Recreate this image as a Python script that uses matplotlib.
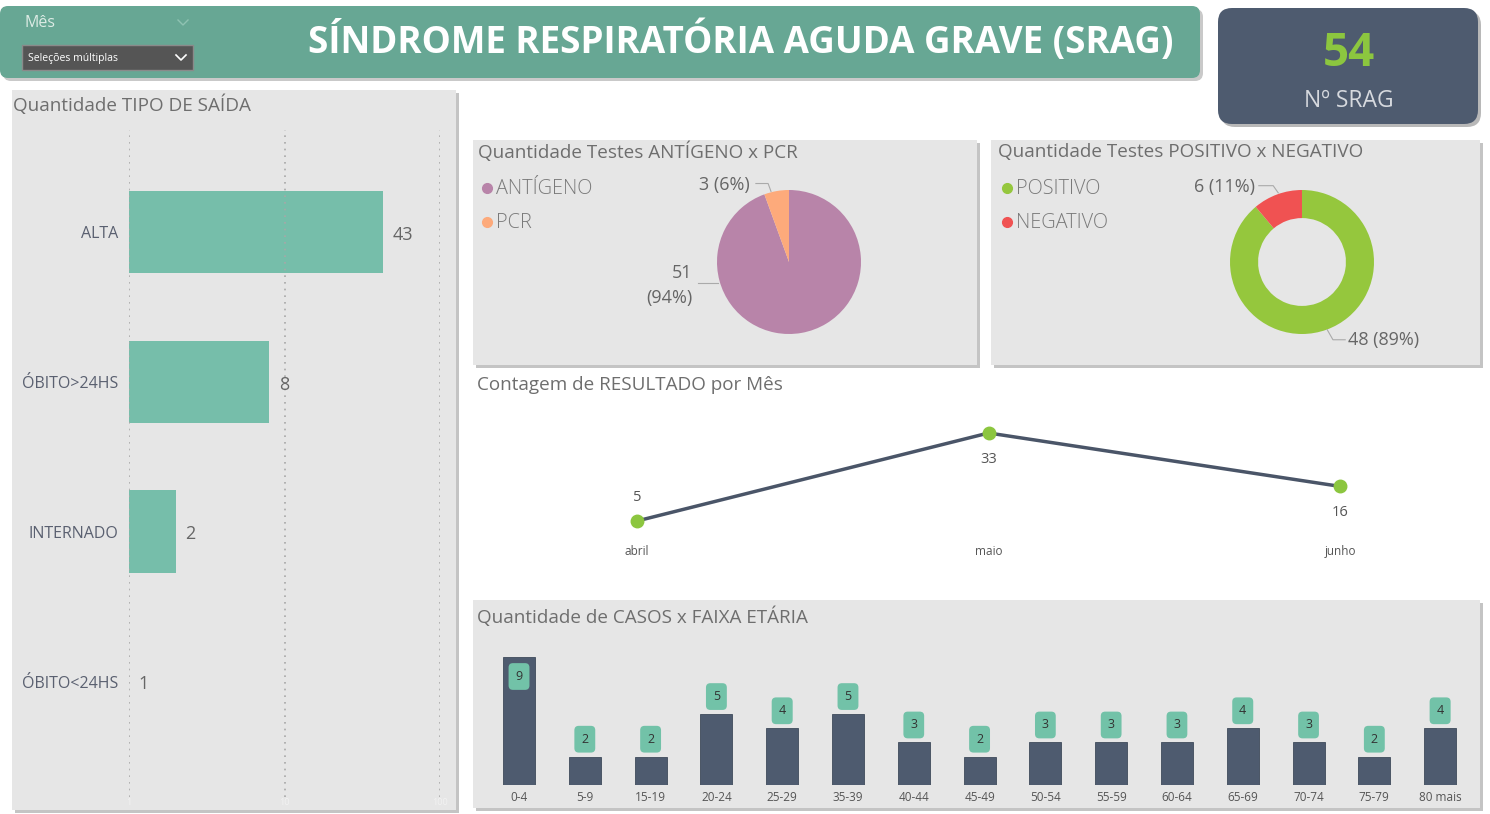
import numpy as np
import matplotlib
matplotlib.use('Agg')
import matplotlib.pyplot as plt
from matplotlib.patches import FancyBboxPatch, Rectangle

plt.rcParams['font.family'] = ['Open Sans', 'DejaVu Sans']

# data
saida_cats = ['ALTA', 'ÓBITO>24HS', 'INTERNADO', 'ÓBITO<24HS']
saida_vals = [43, 8, 2, 1]

teste_cats = ['ANTÍGENO', 'PCR']
teste_vals = [51, 3]
teste_cols = ['#B884A9', '#FDAA7B']

result_cats = ['POSITIVO', 'NEGATIVO']
result_vals = [48, 6]
result_cols = ['#95C73D', '#F05252']

meses = ['abril', 'maio', 'junho']
mes_vals = [5, 33, 16]

faixas = ['0-4', '5-9', '15-19', '20-24', '25-29', '35-39', '40-44', '45-49',
          '50-54', '55-59', '60-64', '65-69', '70-74', '75-79', '80 mais']
faixa_vals = [9, 2, 2, 5, 4, 5, 3, 2, 3, 3, 3, 4, 3, 2, 4]

total_srag = 54

W, H = 1490, 814
PANEL = '#E6E6E6'
TITLE_C = '#6E6E6E'
SLATE = '#4E5B6F'

fig = plt.figure(figsize=(W / 100, H / 100), dpi=100)
fig.patch.set_facecolor('white')


def px_axes(x, y, w, h, z=2):
    ax = fig.add_axes([x / W, 1 - (y + h) / H, w / W, h / H], zorder=z)
    ax.patch.set_alpha(0)
    return ax


bg = fig.add_axes([0, 0, 1, 1], zorder=0)
bg.set_xlim(0, W)
bg.set_ylim(H, 0)
bg.axis('off')


def panel(x0, y0, x1, y1, color=PANEL, rad=0, shadow='#C4C4C4'):
    for dx, col in ((3, shadow), (0, color)):
        if rad:
            p = FancyBboxPatch((x0 + dx, y0 + dx), x1 - x0, y1 - y0,
                               boxstyle='round,pad=0,rounding_size=%d' % rad,
                               fc=col, ec='none')
        else:
            p = Rectangle((x0 + dx, y0 + dx), x1 - x0, y1 - y0, fc=col, ec='none')
        bg.add_patch(p)


def pct(v, vals):
    return round(100 * v / sum(vals))


# header + slicer
panel(0, 6, 1200, 78, color='#67A794', rad=8, shadow='#C9C9C9')
bg.text(741, 41, 'SÍNDROME RESPIRATÓRIA AGUDA GRAVE (SRAG)', color='white',
        fontsize=26.5, fontweight='bold', ha='center', va='center')
bg.text(25, 23, 'Mês', color='#DDEBE5', fontsize=11.5, va='center')
bg.plot([178, 183, 188], [20, 25, 20], color='#8FC2B2', lw=1)
bg.add_patch(Rectangle((22, 45), 171, 25, fc='#555555', ec='#8A8A8A', lw=1))
bg.text(28, 59, 'Seleções múltiplas', color='white', fontsize=7.5, va='center')
bg.plot([176, 181, 186], [55, 60, 55], color='white', lw=1.2)

# KPI card
panel(1218, 8, 1478, 124, color=SLATE, rad=14, shadow='#B8B8B8')
bg.text(1349, 53, str(total_srag), color='#8CC63F', fontsize=33,
        fontweight='bold', ha='center', va='center')
bg.text(1349, 101, 'Nº SRAG', color='#D6D9DE', fontsize=16.5, ha='center', va='center')

# panels
panel(12, 90, 456, 810)
panel(473, 140, 977, 365)
panel(991, 140, 1480, 365)
panel(473, 600, 1480, 808)

TFS = 13.6
bg.text(13, 105, 'Quantidade TIPO DE SAÍDA', color=TITLE_C, fontsize=TFS, va='center')
bg.text(478, 152, 'Quantidade Testes ANTÍGENO x PCR', color=TITLE_C, fontsize=TFS, va='center')
bg.text(998, 152, 'Quantidade Testes POSITIVO x NEGATIVO', color=TITLE_C, fontsize=TFS, va='center')
bg.text(477, 385, 'Contagem de RESULTADO por Mês', color=TITLE_C, fontsize=TFS, va='center')
bg.text(477, 617, 'Quantidade de CASOS x FAIXA ETÁRIA', color=TITLE_C, fontsize=TFS, va='center')

# legends for pie / donut
for lx, cats, cols in ((481, teste_cats, teste_cols), (1001, result_cats, result_cols)):
    for i, (c, col) in enumerate(zip(cats, cols)):
        yy = 188 + 34 * i
        bg.plot(lx + 6, yy, 'o', ms=7, color=col)
        bg.text(lx + 15, yy + 1, c, color='#7A7A7A', fontsize=14.3, va='center',
                fontweight='light')

# ---- TIPO DE SAIDA (log horizontal bars)
ax = px_axes(129, 130, 311, 667)
pos = np.arange(len(saida_cats))
ax.barh(pos, np.array(saida_vals) - 1, left=1, height=0.55, color='#76BEAA')
ax.set_xscale('log')
ax.set_xlim(1, 100)
ax.set_ylim(3.77, -0.68)
ax.set_yticks(pos)
ax.set_yticklabels(saida_cats, fontsize=11.5, color='#5A6070')
ax.set_xticks([1, 10, 100])
ax.set_xticklabels(['1', '10', '100'], fontsize=6.5, color='#F2F2F2')
ax.minorticks_off()
ax.tick_params(axis='x', length=0, pad=1)
ax.tick_params(axis='y', length=0, pad=8)
ax.grid(axis='x', ls=(0, (1, 3)), color='#A8A8A8', lw=1.2)
for s in ax.spines.values():
    s.set_visible(False)
for p, v in zip(pos, saida_vals):
    ax.annotate(str(v), (v, p), xytext=(7, -2), textcoords='offset points',
                va='center', fontsize=13, color='#666666')

# ---- ANTIGENO x PCR pie
LBL = dict(fontsize=13, color='#666666')
ax = px_axes(717, 190, 144, 144)
ax.pie(teste_vals, colors=teste_cols, startangle=90, counterclock=False, radius=1)
ax.set_xlim(-1, 1)
ax.set_ylim(-1, 1)
ax.set_aspect('equal')
ax.text(-0.54, 1.07, '%d (%d%%)' % (teste_vals[1], pct(teste_vals[1], teste_vals)),
        ha='right', va='center', **LBL)
ax.plot([-0.46, -0.29, -0.25], [1.09, 1.09, 0.98], color='#AAAAAA', lw=0.8, clip_on=False)
ax.text(-1.34, -0.32, '%d\n(%d%%)' % (teste_vals[0], pct(teste_vals[0], teste_vals)),
        ha='right', va='center', multialignment='right', linespacing=1.5, **LBL)
ax.plot([-1.27, -0.98], [-0.29, -0.29], color='#AAAAAA', lw=0.8, clip_on=False)

# ---- POSITIVO x NEGATIVO donut
ax = px_axes(1230, 190, 144, 144)
ax.pie(result_vals, colors=result_cols, startangle=90, counterclock=False, radius=1,
       wedgeprops=dict(width=0.39))
ax.set_xlim(-1, 1)
ax.set_ylim(-1, 1)
ax.set_aspect('equal')
ax.text(-0.65, 1.04, '%d (%d%%)' % (result_vals[1], pct(result_vals[1], result_vals)),
        ha='right', va='center', **LBL)
ax.plot([-0.6, -0.4, -0.33], [1.06, 1.06, 0.96], color='#AAAAAA', lw=0.8, clip_on=False)
ax.text(0.64, -1.08, '%d (%d%%)' % (result_vals[0], pct(result_vals[0], result_vals)),
        ha='left', va='center', **LBL)
ax.plot([0.35, 0.43, 0.6], [-0.94, -1.08, -1.08], color='#AAAAAA', lw=0.8, clip_on=False)

# ---- RESULTADO por mes line
ax = px_axes(480, 400, 1000, 142)
xm = np.arange(len(meses))
ax.plot(xm, mes_vals, color='#4A5568', lw=2.5, zorder=2)
ax.plot(xm, mes_vals, 'o', color='#8CC63F', ms=9, zorder=3)
ax.set_xlim(-0.447, 2.398)
ax.set_ylim(-1.7, 43.5)
ax.set_xticks(xm)
ax.set_xticklabels(meses, fontsize=8.5, color='#555555')
ax.set_yticks([])
ax.tick_params(length=0, pad=2)
for s in ax.spines.values():
    s.set_visible(False)
for i, v in enumerate(mes_vals):
    off = 17 if i == 0 else -19
    ax.annotate(str(v), (i, v), xytext=(0, off), textcoords='offset points',
                ha='center', va='center', fontsize=10.5, color='#555555')

# ---- FAIXA ETARIA bars
ax = px_axes(480, 640, 995, 145)
xf = np.arange(len(faixas))
ax.bar(xf, faixa_vals, width=0.486, color=SLATE, edgecolor='#3F4A5B', lw=0.6)
ax.set_xlim(-0.593, 14.53)
ax.set_ylim(0, 10.2)
ax.set_xticks(xf)
ax.set_xticklabels(faixas, fontsize=8.5, color='#555555')
ax.set_yticks([])
ax.tick_params(length=0, pad=4)
for s in ax.spines.values():
    s.set_visible(False)
top = max(faixa_vals)
for i, v in enumerate(faixa_vals):
    off = -14 if v == top else 12.5
    ax.annotate(str(v), (i, v), xytext=(0, off), textcoords='offset points',
                ha='center', va='center', fontsize=9, color='#333333',
                bbox=dict(boxstyle='round,pad=0.55,rounding_size=0.35',
                          fc='#72C2A8', ec='none'))

fig.savefig('out.png', dpi=100, facecolor='white')
